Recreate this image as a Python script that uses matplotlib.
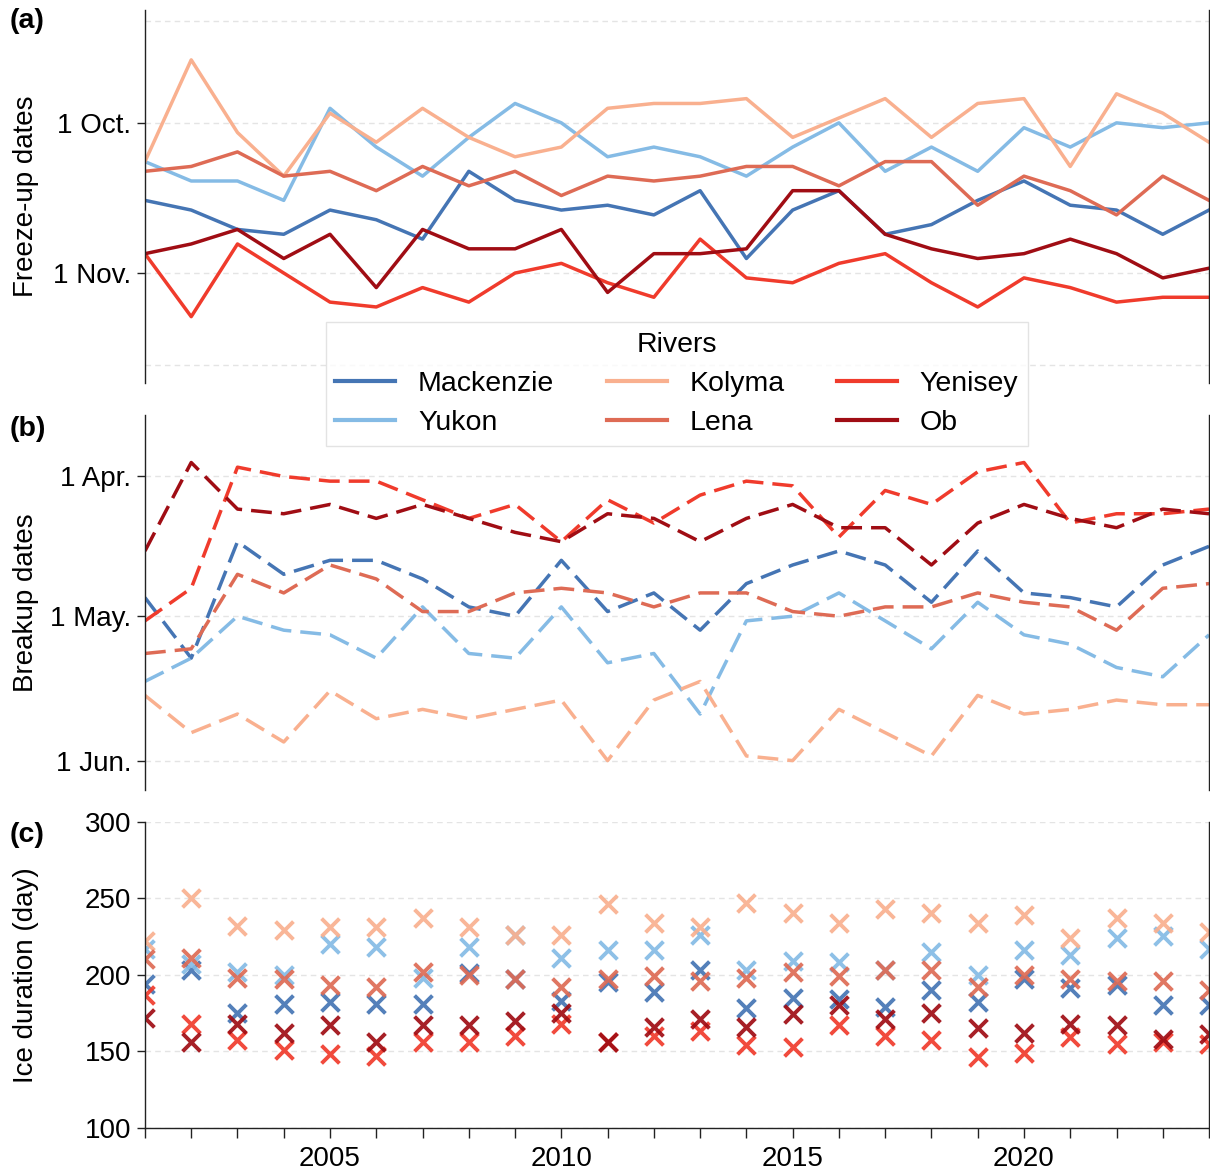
import matplotlib
matplotlib.use('Agg')
import matplotlib.pyplot as plt
from matplotlib.lines import Line2D

plt.rcParams['font.family'] = ['Liberation Sans', 'DejaVu Sans']
plt.rcParams['font.size'] = 20

years = list(range(2001, 2025))
rivers = ['Mackenzie', 'Yukon', 'Kolyma', 'Lena', 'Yenisey', 'Ob']
colors = ['#4575b4', '#85bbe5', '#f9b08f', '#de6b55', '#f03b2c', '#a00d14']

# freeze-up day of year
mackenzie_fu = [290, 292, 296, 297, 292, 294, 298, 284, 290, 292, 291, 293, 288, 302, 292, 288, 297, 295, 290, 286, 291, 292, 297, 292]
yukon_fu = [282, 286, 286, 290, 271, 279, 285, 277, 270, 274, 281, 279, 281, 285, 279, 274, 284, 279, 284, 275, 279, 274, 275, 274]
kolyma_fu = [282, 261, 276, 285, 272, 278, 271, 277, 281, 279, 271, 270, 270, 269, 277, 273, 269, 277, 270, 269, 283, 268, 272, 278]
lena_fu = [284, 283, 280, 285, 284, 288, 283, 287, 284, 289, 285, 286, 285, 283, 283, 287, 282, 282, 291, 285, 288, 293, 285, 290]
yenisey_fu = [301, 314, 299, 305, 311, 312, 308, 311, 305, 303, 307, 310, 298, 306, 307, 303, 301, 307, 312, 306, 308, 311, 310, 310]
ob_fu = [301, 299, 296, 302, 297, 308, 296, 300, 300, 296, 309, 301, 301, 300, 288, 288, 297, 300, 302, 301, 298, 301, 306, 304]

# breakup day of year
mackenzie_bu = [117, 130, 105, 112, 109, 109, 113, 119, 121, 109, 120, 116, 124, 114, 110, 107, 110, 118, 107, 116, 117, 119, 110, 106]
yukon_bu = [135, 130, 121, 124, 125, 130, 119, 129, 130, 119, 131, 129, 142, 122, 121, 116, 122, 128, 118, 125, 127, 132, 134, 125]
kolyma_bu = [138, 146, 142, 148, 137, 143, 141, 143, 141, 139, 152, 139, 135, 151, 152, 141, 146, 151, 138, 142, 141, 139, 140, 140]
lena_bu = [129, 128, 112, 116, 110, 113, 120, 120, 116, 115, 116, 119, 116, 116, 120, 121, 119, 119, 116, 118, 119, 124, 115, 114]
yenisey_bu = [122, 115, 89, 91, 92, 92, 96, 100, 97, 105, 96, 101, 95, 92, 93, 104, 94, 97, 90, 88, 101, 99, 99, 98]
ob_bu = [107, 88, 98, 99, 97, 100, 97, 100, 103, 105, 99, 100, 105, 100, 97, 102, 102, 110, 101, 97, 100, 102, 98, 99]

# ice duration (days)
mackenzie_dur = [194, 203, 175, 181, 182, 181, 181, 201, 197, 183, 195, 189, 203, 178, 185, 184, 179, 190, 182, 197, 191, 193, 180, 180]
yukon_dur = [217, 207, 202, 200, 220, 218, 198, 218, 226, 211, 216, 216, 226, 203, 209, 208, 203, 215, 200, 216, 213, 224, 225, 217]
kolyma_dur = [222, 250, 232, 229, 231, 231, 237, 231, 226, 226, 246, 234, 231, 247, 240, 234, 243, 240, 234, 239, 224, 237, 234, 228]
lena_dur = [210, 211, 198, 197, 193, 192, 202, 200, 197, 192, 197, 199, 196, 198, 202, 199, 203, 203, 192, 200, 197, 196, 196, 190]
yenisey_dur = [187, 168, 157, 151, 148, 147, 156, 156, 160, 168, 156, 160, 163, 154, 153, 167, 160, 157, 146, 149, 159, 155, 156, 155]
ob_dur = [172, 156, 168, 162, 167, 156, 167, 167, 170, 175, 156, 166, 171, 166, 174, 180, 171, 175, 165, 162, 168, 167, 158, 161]

freeze = [mackenzie_fu, yukon_fu, kolyma_fu, lena_fu, yenisey_fu, ob_fu]
breakup = [mackenzie_bu, yukon_bu, kolyma_bu, lena_bu, yenisey_bu, ob_bu]
duration = [mackenzie_dur, yukon_dur, kolyma_dur, lena_dur, yenisey_dur, ob_dur]

grid_kw = dict(color='#e4e4e4', lw=1.0, ls=(0, (4, 3)))

fig = plt.figure(figsize=(12.1, 11.71), dpi=100)
ax1 = fig.add_axes([0.1198, 0.6729, 0.8794, 0.3186])
ax2 = fig.add_axes([0.1198, 0.3254, 0.8794, 0.3202], sharex=ax1)
ax3 = fig.add_axes([0.1198, 0.0370, 0.8794, 0.2613], sharex=ax1)

for ax in (ax1, ax2, ax3):
    ax.set_axisbelow(True)
    ax.spines['top'].set_visible(False)
    for s in ('left', 'right', 'bottom'):
        ax.spines[s].set_color('#222222')
        ax.spines[s].set_linewidth(1.0)
    ax.tick_params(axis='y', length=6, width=1, color='#222222', pad=4)
    ax.grid(axis='y', **grid_kw)

for ax in (ax1, ax2):
    ax.spines['bottom'].set_visible(False)
    ax.tick_params(axis='x', bottom=False, labelbottom=False)

# (a) freeze-up
for vals, c, name in zip(freeze, colors, rivers):
    ax1.plot(years, vals, color=c, lw=2.5, label=name)
ax1.axhline(253, **grid_kw, zorder=0)
ax1.axhline(324, **grid_kw, zorder=0)
ax1.set_ylim(327.7, 250.7)
ax1.set_yticks([274, 305])
ax1.set_yticklabels(['1 Oct.', '1 Nov.'])
ax1.set_ylabel('Freeze-up dates')

# (b) breakup
for vals, c in zip(breakup, colors):
    ax2.plot(years, vals, color=c, lw=2.5, dashes=(6, 2.6))
ax2.set_ylim(158.3, 77.8)
ax2.set_yticks([91, 121, 152])
ax2.set_yticklabels(['1 Apr.', '1 May.', '1 Jun.'])
ax2.set_ylabel('Breakup dates')

# (c) ice duration
for vals, c in zip(duration, colors):
    ax3.scatter(years, vals, marker='x', s=165, linewidths=2.8, color=c, alpha=0.92)
ax3.set_ylim(100, 300)
ax3.set_yticks([100, 150, 200, 250, 300])
ax3.set_ylabel('Ice duration (day)')
ax3.set_xlim(2001, 2024)
ax3.set_xticks(years)
ax3.set_xticklabels([str(y) if y % 5 == 0 else '' for y in years])
ax3.tick_params(axis='x', length=7, width=1, color='#222222', pad=6)

for ax in (ax1, ax2, ax3):
    ax.yaxis.set_label_coords(-0.1, 0.5)

fig.text(0.008, 0.993, '(a)', fontweight='bold', va='top', ha='left', fontsize=20.5)
fig.text(0.008, 0.645, '(b)', fontweight='bold', va='top', ha='left', fontsize=20.5)
fig.text(0.008, 0.298, '(c)', fontweight='bold', va='top', ha='left', fontsize=20.5)

handles = [Line2D([], [], color=c, lw=3) for c in colors]
leg = fig.legend(handles, rivers, loc='center', bbox_to_anchor=(0.5595, 0.672),
                 ncol=3, title='Rivers', fontsize=20.5, title_fontsize=20.5,
                 handlelength=2.1, handletextpad=0.8, columnspacing=1.85,
                 labelspacing=0.45, frameon=True, framealpha=0.8,
                 edgecolor='#dddddd', fancybox=False, borderpad=0.35)
leg.get_frame().set_linewidth(1.0)

fig.savefig('out.png', dpi=100)
